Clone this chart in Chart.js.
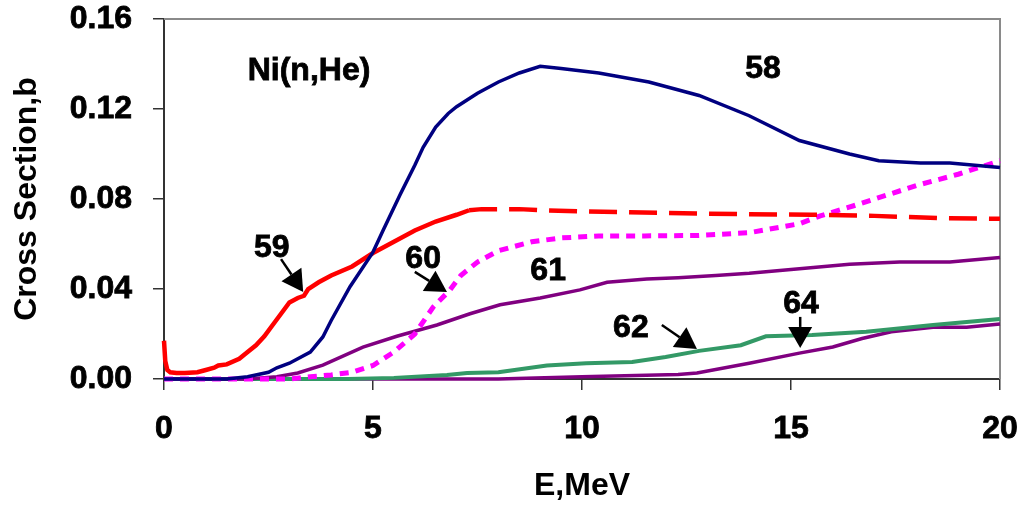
<!DOCTYPE html>
<html>
<head>
<meta charset="utf-8">
<script src="https://cdn.jsdelivr.net/npm/chart.js@4.4.1/dist/chart.umd.min.js"></script>
<style>
  html, body { margin: 0; padding: 0; background: #fff; }
  #wrap { width: 1021px; height: 510px; }
</style>
</head>
<body>
<div id="wrap"><canvas id="chart"></canvas></div>
<script>
// E, MeV values and cross sections (b)
const e58 = [0, 1.5, 2.0, 2.5, 2.7, 3.0, 3.5, 3.8, 4.0, 4.45, 5.0, 5.24, 5.65, 6.0, 6.2, 6.5, 6.8, 7.0, 7.5, 8.0, 8.5, 9.0, 9.5, 10.4, 11.6, 12.8, 14.0, 15.2, 16.4, 17.1, 18.1, 18.8, 20];
const s58 = [0, 0, 0.001, 0.003, 0.005, 0.007, 0.012, 0.0187, 0.026, 0.041, 0.0564, 0.066, 0.082, 0.095, 0.103, 0.112, 0.118, 0.121, 0.127, 0.132, 0.136, 0.139, 0.138, 0.136, 0.132, 0.126, 0.117, 0.106, 0.1, 0.097, 0.096, 0.096, 0.094];

const e59 = [0, 0.03, 0.08, 0.15, 0.3, 0.5, 0.8, 1.0, 1.2, 1.3, 1.5, 1.8, 2.0, 2.2, 2.4, 2.6, 2.8, 3.0, 3.2, 3.35, 3.45, 3.7, 4.0, 4.5, 5.0, 5.5, 6.0, 6.5, 7.0, 7.3, 7.6, 8.5, 9.0, 10, 12, 14, 15.5, 17, 18.5, 20];
const s59 = [0.017, 0.008, 0.004, 0.003, 0.0027, 0.0027, 0.003, 0.004, 0.005, 0.006, 0.0065, 0.009, 0.012, 0.015, 0.019, 0.024, 0.029, 0.034, 0.036, 0.037, 0.040, 0.043, 0.046, 0.050, 0.056, 0.061, 0.066, 0.070, 0.073, 0.075, 0.0755, 0.0755, 0.075, 0.0745, 0.0738, 0.0732, 0.073, 0.0725, 0.0715, 0.0712];

const e60 = [0, 3.0, 3.5, 4.0, 4.5, 5.0, 5.5, 6.0, 6.44, 6.84, 7.1, 7.5, 8.0, 8.8, 9.5, 10.4, 11.5, 12.8, 14.0, 15.2, 15.7, 16.5, 17.0, 18.0, 19.0, 20];
const s60 = [0, 0, 0.001, 0.0018, 0.003, 0.006, 0.012, 0.020, 0.032, 0.0395, 0.046, 0.052, 0.057, 0.061, 0.0627, 0.0636, 0.0636, 0.0638, 0.065, 0.069, 0.0725, 0.077, 0.08, 0.086, 0.091, 0.097];

const e61 = [0, 2.0, 2.7, 3.2, 3.8, 4.76, 5.57, 6.53, 7.32, 8.04, 9.0, 9.95, 10.6, 11.55, 12.3, 13.2, 14.0, 15.2, 16.4, 17.6, 18.8, 20];
const s61 = [0, 0, 0.001, 0.0027, 0.0062, 0.0142, 0.019, 0.024, 0.029, 0.033, 0.036, 0.0396, 0.043, 0.0444, 0.045, 0.046, 0.047, 0.049, 0.051, 0.052, 0.052, 0.054];

const e62 = [0, 4.4, 5.5, 6.77, 7.25, 8.0, 9.16, 10.1, 11.2, 12.0, 12.8, 13.8, 14.4, 15.5, 16.8, 18.4, 19.2, 20];
const s62 = [0, 0, 0.0005, 0.0018, 0.0027, 0.003, 0.006, 0.007, 0.0076, 0.0098, 0.0125, 0.015, 0.019, 0.0196, 0.021, 0.024, 0.0253, 0.0267];

const e64 = [0, 8.0, 10.0, 12.3, 12.75, 14.0, 15.2, 16.0, 16.7, 17.4, 18.4, 19.2, 20];
const s64 = [0, 0, 0.001, 0.002, 0.0027, 0.007, 0.0115, 0.0142, 0.018, 0.021, 0.023, 0.023, 0.0244];

const xTicks = [0, 5, 10, 15, 20];
const yTicks = [0, 0.04, 0.08, 0.12, 0.16];

// text labels [text, E, sigma] and arrows [E1, s1, E2, s2]
const labels = [
    ["Ni(n,He)", 3.47, 0.137],
    ["58", 14.33, 0.1378],
    ["59", 2.58, 0.0582],
    ["60", 6.2, 0.0533],
    ["61", 9.19, 0.048],
    ["62", 11.17, 0.0227],
    ["64", 15.24, 0.0333],
];
const arrows = [
    [2.80, 0.0533, 3.33, 0.0387],
    [6.0, 0.0476, 6.77, 0.0387],
    [11.91, 0.024, 12.75, 0.0133],
    [15.22, 0.0276, 15.22, 0.0138],
];

const FONT = "'Liberation Sans', Arial, sans-serif";
const SIZE = 32;
const pts = (xs, ys) => xs.map((x, i) => ({ x: x, y: ys[i] }));

const frame = {
    id: "frame",
    beforeInit(chart) {
        chart.ctx.letterSpacing = "2px";
    },
    beforeDatasetsDraw(chart) {
        const { ctx, chartArea: a } = chart;
        ctx.save();
        ctx.strokeStyle = "#8a8a8a";
        ctx.lineWidth = 2;
        ctx.beginPath();
        ctx.moveTo(a.left, a.top);
        ctx.lineTo(a.right, a.top);
        ctx.lineTo(a.right, a.bottom);
        ctx.stroke();
        ctx.restore();
    },
    afterDatasetsDraw(chart) {
        const { ctx, scales: { x, y } } = chart;
        ctx.save();
        ctx.fillStyle = "#000";
        ctx.strokeStyle = "#000";
        ctx.font = "bold " + SIZE + "px " + FONT;
        ctx.textAlign = "center";
        ctx.textBaseline = "middle";
        ctx.lineWidth = 0.8;
        labels.forEach(([t, ex, sy]) => {
            const px = x.getPixelForValue(ex), py = y.getPixelForValue(sy);
            ctx.fillText(t, px, py);
            ctx.strokeText(t, px, py);
        });
        arrows.forEach(([e1, s1, e2, s2]) => {
            const x1 = x.getPixelForValue(e1), y1 = y.getPixelForValue(s1);
            const x2 = x.getPixelForValue(e2), y2 = y.getPixelForValue(s2);
            const ang = Math.atan2(y2 - y1, x2 - x1);
            const hl = 21, hw = 12;
            const bx = x2 - hl * Math.cos(ang), by = y2 - hl * Math.sin(ang);
            ctx.lineWidth = 2.5;
            ctx.beginPath();
            ctx.moveTo(x1, y1);
            ctx.lineTo(bx, by);
            ctx.stroke();
            ctx.beginPath();
            ctx.moveTo(x2, y2);
            ctx.lineTo(bx + hw * Math.sin(ang), by - hw * Math.cos(ang));
            ctx.lineTo(bx - hw * Math.sin(ang), by + hw * Math.cos(ang));
            ctx.closePath();
            ctx.fill();
        });
        ctx.restore();
    },
};

const line = (data, color, width, extra) => Object.assign({
    data: data,
    borderColor: color,
    backgroundColor: color,
    borderWidth: width,
    pointRadius: 0,
    tension: 0,
    fill: false,
    clip: 5,
}, extra || {});

const tickFont = { family: FONT, size: SIZE, weight: "bold" };

new Chart(document.getElementById("chart"), {
    type: "line",
    data: {
        datasets: [
            line(pts(e58, s58), "#000080", 3.5),
            line(pts(e59, s59), "#ff0000", 4.5, {
                segment: { borderDash: (c) => (c.p0.parsed.x >= 7.3 ? [28, 12] : undefined) },
            }),
            line(pts(e60, s60), "#ff00ff", 5, { borderDash: [9, 7] }),
            line(pts(e61, s61), "#800080", 3.5),
            line(pts(e62, s62), "#339966", 4),
            line(pts(e64, s64), "#800080", 3.5),
        ],
    },
    options: {
        responsive: true,
        maintainAspectRatio: false,
        animation: false,
        events: [],
        layout: {
            padding: 0,
        },
        plugins: {
            legend: { display: false },
            tooltip: { enabled: false },
        },
        scales: {
            x: {
                type: "linear",
                min: 0,
                max: 20,
                afterFit: (s) => {
                    s.height = 131;
                    s.paddingLeft = 0;
                    s.paddingRight = 21;
                },
                afterBuildTicks: (s) => { s.ticks = xTicks.map((v) => ({ value: v })); },
                ticks: {
                    color: "#000",
                    padding: 20,
                    textStrokeColor: "#000",
                    textStrokeWidth: 0.8,
                    font: tickFont,
                },
                grid: { drawOnChartArea: false, tickLength: 11, color: "#333", lineWidth: 1.5 },
                border: { color: "#333", width: 2 },
                title: {
                    display: true,
                    text: "E,MeV",
                    color: "#000",
                    padding: { top: 0, bottom: 5 },
                    font: tickFont,
                },
            },
            y: {
                min: 0,
                max: 0.16,
                afterFit: (s) => {
                    s.width = 164;
                    s.paddingTop = 19;
                    s.paddingBottom = 0;
                },
                afterBuildTicks: (s) => { s.ticks = yTicks.map((v) => ({ value: v })); },
                ticks: {
                    color: "#000",
                    padding: 21,
                    textStrokeColor: "#000",
                    textStrokeWidth: 0.8,
                    callback: (v) => v.toFixed(2),
                    font: tickFont,
                },
                grid: { drawOnChartArea: false, tickLength: 11, color: "#333", lineWidth: 1.5 },
                border: { color: "#333", width: 2 },
                title: {
                    display: true,
                    text: "Cross Section,b",
                    color: "#000",
                    padding: { top: 8, bottom: 0 },
                    font: tickFont,
                },
            },
        },
    },
    plugins: [frame],
});
</script>
</body>
</html>
